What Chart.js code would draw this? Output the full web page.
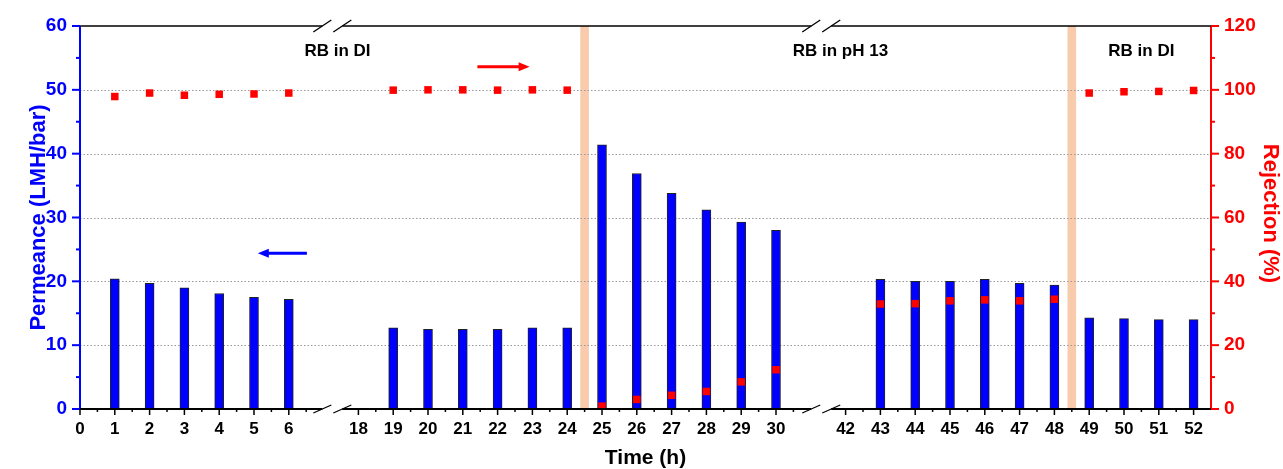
<!DOCTYPE html>
<html>
<head>
<meta charset="utf-8">
<script src="https://cdn.jsdelivr.net/npm/chart.js@4.4.0/dist/chart.umd.min.js"></script>
<style>
  html, body { margin: 0; padding: 0; background: #fff; }
  #chart { display: block; }
</style>
</head>
<body>
<canvas id="chart" width="1283" height="469"></canvas>
<script>
(function () {
    'use strict';

    // values
    var hours = [1, 2, 3, 4, 5, 6,
        19, 20, 21, 22, 23, 24, 25, 26, 27, 28, 29, 30,
        43, 44, 45, 46, 47, 48, 49, 50, 51, 52];
    var permeance = [20.4, 19.7, 19.0, 18.1, 17.5, 17.2,
        12.7, 12.5, 12.5, 12.5, 12.7, 12.7, 41.4, 36.9, 33.8, 31.2, 29.3, 28.0,
        20.3, 20.0, 20.0, 20.3, 19.7, 19.4, 14.3, 14.15, 14.0, 14.0];
    var rejection = [97.9, 99.0, 98.3, 98.6, 98.7, 99.0,
        99.9, 100, 100, 99.9, 100, 99.9, 0.9, 3.0, 4.3, 5.5, 8.5, 12.3,
        32.9, 33.0, 33.9, 34.2, 33.9, 34.4, 99.0, 99.4, 99.5, 99.8];
    var tickHours = [0, 1, 2, 3, 4, 5, 6,
        18, 19, 20, 21, 22, 23, 24, 25, 26, 27, 28, 29, 30,
        42, 43, 44, 45, 46, 47, 48, 49, 50, 51, 52];
    var shadeHours = [24.5, 48.5];
    var phaseLabels = ['RB in DI', 'RB in pH 13', 'RB in DI'];

    // broken time axis: each segment is laid end to end
    var segments = [
        { from: 0, to: 6, at: 0 },
        { from: 18, to: 30, at: 8 },
        { from: 42, to: 52, at: 22 }
    ];
    var breaksAt = [7.25, 21.3];
    var phaseLabelAt = [7.4, 21.85, 30.5];

    var FONT = '"Liberation Sans", Arial, sans-serif';
    var BLUE = '#0000FF';
    var RED = '#FF0000';

    function axisPos(h) {
        for (var i = 0; i < segments.length; i++) {
            var s = segments[i];
            if (h >= s.from - 0.5 && h <= s.to + 0.5) return s.at + h - s.from;
        }
        return null;
    }

    function line(ctx, x1, y1, x2, y2) {
        ctx.beginPath();
        ctx.moveTo(x1, y1);
        ctx.lineTo(x2, y2);
        ctx.stroke();
    }

    function brokenLine(ctx, x, a, y, tall) {
        var xs = breaksAt.map(function (b) { return x.getPixelForValue(b); });
        var start = a.left;
        xs.forEach(function (c) {
            line(ctx, start, y, c - 10, y);
            start = c + 10;
        });
        line(ctx, start, y, a.right, y);
        ctx.lineWidth = 1.3;
        xs.forEach(function (c) {
            line(ctx, c - 19, y + tall, c - 1, y - tall);
            line(ctx, c + 1, y + tall, c + 19, y - tall);
        });
    }

    function arrow(ctx, x1, x2, y, color) {
        var dir = x2 > x1 ? 1 : -1;
        ctx.strokeStyle = color;
        ctx.fillStyle = color;
        ctx.lineWidth = 3;
        line(ctx, x1, y, x2 - dir * 9, y);
        ctx.beginPath();
        ctx.moveTo(x2, y);
        ctx.lineTo(x2 - dir * 11, y - 4.5);
        ctx.lineTo(x2 - dir * 11, y + 4.5);
        ctx.closePath();
        ctx.fill();
    }

    var decor = {
        id: 'decor',
        beforeDraw: function (chart) {
            var ctx = chart.ctx, a = chart.chartArea, x = chart.scales.x;
            ctx.save();
            ctx.fillStyle = '#F8CBAD';
            shadeHours.forEach(function (h) {
                var px = x.getPixelForValue(axisPos(h));
                ctx.fillRect(px - 4.3, a.top, 8.6, a.bottom - a.top);
            });
            ctx.restore();
        },
        beforeDatasetsDraw: function (chart) {
            var ctx = chart.ctx, a = chart.chartArea, y = chart.scales.y;
            ctx.save();
            ctx.strokeStyle = '#999';
            ctx.lineWidth = 1;
            ctx.setLineDash([1.5, 2]);
            for (var v = 10; v <= 50; v += 10) {
                var py = Math.round(y.getPixelForValue(v)) + 0.5;
                line(ctx, a.left, py, a.right, py);
            }
            ctx.restore();
        },
        afterDraw: function (chart) {
            var ctx = chart.ctx, a = chart.chartArea;
            var x = chart.scales.x, y = chart.scales.y, y1 = chart.scales.y1;
            var v, p;
            ctx.save();

            // left axis
            ctx.strokeStyle = BLUE;
            ctx.lineWidth = 2;
            line(ctx, a.left, a.top, a.left, a.bottom + 1);
            for (v = 0; v <= 60; v += 5) {
                p = y.getPixelForValue(v);
                line(ctx, a.left - (v % 10 === 0 ? 8 : 4), p, a.left, p);
            }

            // right axis
            ctx.strokeStyle = RED;
            line(ctx, a.right, a.top, a.right, a.bottom + 1);
            for (v = 0; v <= 120; v += 10) {
                p = y1.getPixelForValue(v);
                line(ctx, a.right, p, a.right + (v % 20 === 0 ? 8 : 4), p);
            }

            // bottom and top axes with break marks
            ctx.strokeStyle = '#000';
            ctx.lineWidth = 2;
            brokenLine(ctx, x, a, a.bottom, 4);
            ctx.lineWidth = 1.5;
            brokenLine(ctx, x, a, a.top, 6);
            ctx.lineWidth = 1.5;
            tickHours.forEach(function (h, i) {
                var pos = axisPos(h);
                p = x.getPixelForValue(pos);
                line(ctx, p, a.bottom, p, a.bottom + 6);
                if (i < tickHours.length - 1) {
                    var m = x.getPixelForValue(pos + 0.5);
                    line(ctx, m, a.bottom, m, a.bottom + 3);
                }
            });

            // axis titles
            ctx.textAlign = 'center';
            ctx.textBaseline = 'middle';
            ctx.font = 'bold 22px ' + FONT;
            ctx.fillStyle = BLUE;
            ctx.save();
            ctx.translate(39, (a.top + a.bottom) / 2);
            ctx.rotate(-Math.PI / 2);
            ctx.fillText('Permeance (LMH/bar)', 0, 0);
            ctx.restore();

            ctx.fillStyle = RED;
            ctx.save();
            ctx.translate(1270, (a.top + a.bottom) / 2 - 4);
            ctx.rotate(Math.PI / 2);
            ctx.fillText('Rejection (%)', 0, 0);
            ctx.restore();

            ctx.fillStyle = '#000';
            ctx.font = 'bold 21px ' + FONT;
            ctx.fillText('Time (h)', (a.left + a.right) / 2, 458);

            // phase labels
            ctx.font = 'bold 17px ' + FONT;
            phaseLabels.forEach(function (t, i) {
                ctx.fillText(t, x.getPixelForValue(phaseLabelAt[i]), y.getPixelForValue(56));
            });

            // direction arrows
            arrow(ctx, x.getPixelForValue(11.42), x.getPixelForValue(12.92), y.getPixelForValue(53.6), RED);
            arrow(ctx, x.getPixelForValue(6.52), x.getPixelForValue(5.11), y.getPixelForValue(24.4), BLUE);

            ctx.restore();
        }
    };

    var barData = hours.map(function (h, i) { return { x: axisPos(h), y: permeance[i] }; });
    var rejData = hours.map(function (h, i) { return { x: axisPos(h), y: rejection[i] }; });

    Chart.defaults.font.family = FONT;

    new Chart(document.getElementById('chart'), {
        type: 'bar',
        data: {
            datasets: [
                {
                    type: 'line',
                    label: 'Rejection',
                    data: rejData,
                    yAxisID: 'y1',
                    showLine: false,
                    pointStyle: 'rect',
                    pointRadius: 5.3,
                    pointBackgroundColor: RED,
                    pointBorderWidth: 0,
                    order: 0
                },
                {
                    type: 'bar',
                    label: 'Permeance',
                    data: barData,
                    yAxisID: 'y',
                    backgroundColor: BLUE,
                    borderColor: '#222',
                    borderWidth: 1,
                    barThickness: 9,
                    order: 1
                }
            ]
        },
        options: {
            responsive: false,
            animation: false,
            layout: { padding: { top: 26, left: 0, right: 0, bottom: 0 } },
            plugins: {
                legend: { display: false },
                tooltip: { enabled: false }
            },
            scales: {
                x: {
                    type: 'linear',
                    min: 0,
                    max: 32.5,
                    offset: false,
                    grid: { display: false, drawTicks: false, offset: false },
                    border: { display: false },
                    afterBuildTicks: function (s) {
                        s.ticks = tickHours.map(function (h) { return { value: axisPos(h) }; });
                    },
                    ticks: {
                        autoSkip: false,
                        maxRotation: 0,
                        padding: 10,
                        color: '#000',
                        font: { size: 17, weight: 'bold' },
                        callback: function (v, i) { return String(tickHours[i]); }
                    },
                    afterFit: function (s) { s.height = 60; }
                },
                y: {
                    position: 'left',
                    min: 0,
                    max: 60,
                    grid: { display: false, drawTicks: false },
                    border: { display: false },
                    ticks: {
                        stepSize: 10,
                        padding: 13,
                        color: BLUE,
                        font: { size: 19, weight: 'bold' }
                    },
                    afterFit: function (s) { s.width = 80; }
                },
                y1: {
                    position: 'right',
                    min: 0,
                    max: 120,
                    grid: { display: false, drawTicks: false },
                    border: { display: false },
                    ticks: {
                        stepSize: 20,
                        padding: 13,
                        color: RED,
                        font: { size: 19, weight: 'bold' }
                    },
                    afterFit: function (s) { s.width = 72; }
                }
            }
        },
        plugins: [decor]
    });
})();
</script>
</body>
</html>
